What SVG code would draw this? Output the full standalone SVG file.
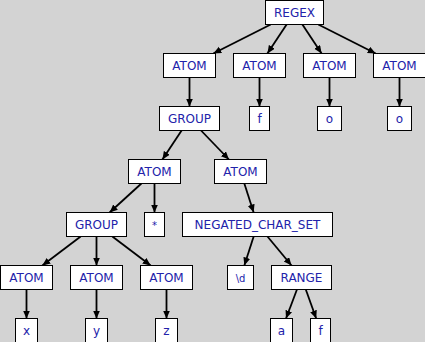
<svg xmlns="http://www.w3.org/2000/svg" width="425" height="342" viewBox="0 0 425 342">
<defs>
<style>
.n rect{fill:#ffffff;stroke:#000000;stroke-width:1}
.n text{font-family:"DejaVu Sans",sans-serif;font-size:12px;fill:#2222aa;text-anchor:middle}
.e line{stroke:#000000;stroke-width:1.8;marker-end:url(#arr)}
</style>
<marker id="arr" markerUnits="userSpaceOnUse" markerWidth="9" markerHeight="8" refX="8" refY="3.5" orient="auto">
<path d="M0,0 L8,3.5 L0,7 z" fill="#000000"/>
</marker>
</defs>
<rect x="0" y="0" width="425" height="342" fill="#d3d3d3"/>
<g id="edges" class="e">
<line x1="270.7" y1="24.5" x2="213.3" y2="53.5"/>
<line x1="286.6" y1="24.5" x2="267.4" y2="53.5"/>
<line x1="302.4" y1="24.5" x2="321.6" y2="53.5"/>
<line x1="318.3" y1="24.5" x2="375.7" y2="53.5"/>
<line x1="189.5" y1="77.5" x2="189.5" y2="106.5"/>
<line x1="259.5" y1="77.5" x2="259.5" y2="106.5"/>
<line x1="329.5" y1="77.5" x2="329.5" y2="106.5"/>
<line x1="399.5" y1="77.5" x2="399.5" y2="106.5"/>
<line x1="181.6" y1="130.5" x2="162.4" y2="159.5"/>
<line x1="201.05" y1="130.5" x2="228.95" y2="159.5"/>
<line x1="141.4" y1="183.5" x2="109.6" y2="212.5"/>
<line x1="154.5" y1="183.5" x2="154.5" y2="212.5"/>
<line x1="244.35" y1="183.5" x2="253.65" y2="212.5"/>
<line x1="80.65" y1="236.5" x2="42.35" y2="265.5"/>
<line x1="96.5" y1="236.5" x2="96.5" y2="265.5"/>
<line x1="112.35" y1="236.5" x2="150.65" y2="265.5"/>
<line x1="253.65" y1="236.5" x2="244.35" y2="265.5"/>
<line x1="267.46" y1="236.5" x2="291.54" y2="265.5"/>
<line x1="26.5" y1="289.5" x2="26.5" y2="318.5"/>
<line x1="96.5" y1="289.5" x2="96.5" y2="318.5"/>
<line x1="166.5" y1="289.5" x2="166.5" y2="318.5"/>
<line x1="296.97" y1="289.5" x2="286" y2="318.5"/>
<line x1="305.8" y1="289.5" x2="316.2" y2="318.5"/>
</g>
<g id="regex" class="n"><rect x="265.5" y="0.5" width="58" height="24"/><text x="294.5" y="17">REGEX</text></g>
<g id="atom1" class="n"><rect x="163.5" y="53.5" width="52" height="24"/><text x="189.5" y="70">ATOM</text></g>
<g id="atom2" class="n"><rect x="233.5" y="53.5" width="52" height="24"/><text x="259.5" y="70">ATOM</text></g>
<g id="atom3" class="n"><rect x="303.5" y="53.5" width="52" height="24"/><text x="329.5" y="70">ATOM</text></g>
<g id="atom4" class="n"><rect x="373.5" y="53.5" width="52" height="24"/><text x="399.5" y="70">ATOM</text></g>
<g id="group1" class="n"><rect x="159.5" y="106.5" width="60" height="24"/><text x="189.5" y="123">GROUP</text></g>
<g id="f1" class="n"><rect x="249.5" y="106.5" width="20" height="24"/><text x="259.5" y="123">f</text></g>
<g id="o1" class="n"><rect x="317.5" y="106.5" width="24" height="24"/><text x="329.5" y="123">o</text></g>
<g id="o2" class="n"><rect x="387.5" y="106.5" width="24" height="24"/><text x="399.5" y="123">o</text></g>
<g id="atom5" class="n"><rect x="128.5" y="159.5" width="52" height="24"/><text x="154.5" y="176">ATOM</text></g>
<g id="atom6" class="n"><rect x="214.5" y="159.5" width="52" height="24"/><text x="240.5" y="176">ATOM</text></g>
<g id="group2" class="n"><rect x="66.5" y="212.5" width="60" height="24"/><text x="96.5" y="229">GROUP</text></g>
<g id="star" class="n"><rect x="144.5" y="212.5" width="20" height="24"/><text x="154.5" y="229" style="font-size:10px">*</text></g>
<g id="negset" class="n"><rect x="182.5" y="212.5" width="150" height="24"/><text x="257.5" y="229">NEGATED_CHAR_SET</text></g>
<g id="atomx" class="n"><rect x="0.5" y="265.5" width="52" height="24"/><text x="26.5" y="282">ATOM</text></g>
<g id="atomy" class="n"><rect x="70.5" y="265.5" width="52" height="24"/><text x="96.5" y="282">ATOM</text></g>
<g id="atomz" class="n"><rect x="140.5" y="265.5" width="52" height="24"/><text x="166.5" y="282">ATOM</text></g>
<g id="digit" class="n"><rect x="227.5" y="265.5" width="26" height="24"/><text x="240.5" y="281.5" style="font-size:10px">\d</text></g>
<g id="range" class="n"><rect x="271.5" y="265.5" width="60" height="24"/><text x="301.5" y="282">RANGE</text></g>
<g id="x" class="n"><rect x="15.5" y="318.5" width="22" height="24"/><text x="26.5" y="335">x</text></g>
<g id="y" class="n"><rect x="85.5" y="318.5" width="22" height="24"/><text x="96.5" y="335">y</text></g>
<g id="z" class="n"><rect x="155.5" y="318.5" width="22" height="24"/><text x="166.5" y="335">z</text></g>
<g id="a" class="n"><rect x="270.5" y="318.5" width="22" height="24"/><text x="281.5" y="335">a</text></g>
<g id="f2" class="n"><rect x="310.5" y="318.5" width="20" height="24"/><text x="320.5" y="335">f</text></g>
</svg>
